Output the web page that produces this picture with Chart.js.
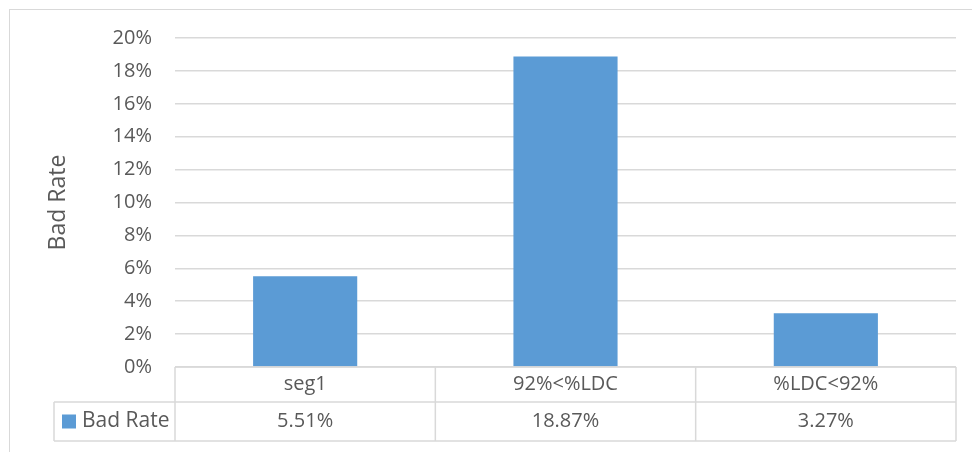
<!DOCTYPE html>
<html lang="en">

<head>
    <meta charset="UTF-8" />
    <title>Bad Rate</title>
    <script src="https://cdn.jsdelivr.net/npm/chart.js"></script>
    <style>
        html, body {
            margin: 0;
            padding: 0;
            background: #ffffff;
        }

        .chart-container {
            width: 972px;
            height: 452px;
        }
    </style>
</head>

<body>
    <div class="chart-container">
        <canvas id="badRateChart"></canvas>
    </div>

    <script>
        // Segments and bad rate per segment
        const segments = ["seg1", "92%<%LDC", "%LDC<92%"];
        const badRate = [0.0551, 0.1887, 0.0327];
        const seriesName = "Bad Rate";

        const barColor = "#5B9BD5";
        const lineColor = "#D9D9D9";
        const textColor = "#595959";
        const fontFamily = "'Open Sans', sans-serif";

        // Frame around the chart (only top/left edges fall inside the canvas)
        const frame = {
            id: "frame",
            beforeDraw(chart) {
                const ctx = chart.ctx;
                ctx.save();
                ctx.strokeStyle = lineColor;
                ctx.lineWidth = 1;
                ctx.strokeRect(9.5, 9.5, chart.width + 20, chart.height + 20);
                ctx.restore();
            }
        };

        // Data table under the plot: category row, then legend key + values row
        const dataTable = {
            id: "dataTable",
            afterDraw(chart) {
                const ctx = chart.ctx;
                const x = chart.scales.x;
                const area = chart.chartArea;
                const colW = (area.right - area.left) / segments.length;
                const top = area.bottom;
                const mid = top + 35;
                const bottom = top + 74;
                const keyLeft = 54;

                ctx.save();
                ctx.strokeStyle = lineColor;
                ctx.lineWidth = 1.5;
                ctx.beginPath();
                // horizontal lines
                ctx.moveTo(area.left, top);
                ctx.lineTo(area.right, top);
                ctx.moveTo(keyLeft, mid);
                ctx.lineTo(area.right, mid);
                ctx.moveTo(keyLeft, bottom);
                ctx.lineTo(area.right, bottom);
                // vertical lines
                ctx.moveTo(keyLeft, mid);
                ctx.lineTo(keyLeft, bottom);
                for (let i = 0; i <= segments.length; i++) {
                    const cx = area.left + i * colW;
                    ctx.moveTo(cx, top);
                    ctx.lineTo(cx, bottom);
                }
                ctx.stroke();

                ctx.fillStyle = textColor;
                ctx.font = "20px " + fontFamily;
                ctx.textAlign = "center";
                ctx.textBaseline = "middle";
                segments.forEach((label, i) => {
                    const cx = x.getPixelForValue(i);
                    ctx.fillText(label, cx, (top + mid) / 2);
                    ctx.fillText((badRate[i] * 100).toFixed(2) + "%", cx, (mid + bottom) / 2);
                });

                // legend key
                ctx.fillStyle = barColor;
                ctx.fillRect(62, (mid + bottom) / 2 - 7, 14, 14);
                ctx.fillStyle = textColor;
                ctx.textAlign = "left";
                ctx.font = "21px " + fontFamily;
                ctx.fillText(seriesName, 82, (mid + bottom) / 2);
                ctx.restore();
            }
        };

        const badRateData = {
            labels: segments,
            datasets: [
                {
                    label: seriesName,
                    data: badRate,
                    backgroundColor: barColor,
                    borderWidth: 0,
                    categoryPercentage: 0.4,
                    barPercentage: 1.0,
                },
            ],
        };

        const badRateConfig = {
            type: "bar",
            data: badRateData,
            options: {
                responsive: true,
                maintainAspectRatio: false,
                animation: false,
                layout: {
                    padding: { top: 38, right: 16, bottom: 85, left: 0 },
                },
                plugins: {
                    legend: { display: false },
                    tooltip: { enabled: false },
                },
                scales: {
                    x: {
                        display: false,
                    },
                    y: {
                        min: 0,
                        max: 0.2,
                        border: { display: false },
                        grid: {
                            color: lineColor,
                            lineWidth: 1.5,
                            drawTicks: false,
                        },
                        ticks: {
                            stepSize: 0.02,
                            padding: 23,
                            color: textColor,
                            font: { family: fontFamily, size: 20 },
                            callback: (v) => Math.round(v * 100) + "%",
                        },
                        title: {
                            display: true,
                            text: seriesName,
                            color: textColor,
                            font: { family: fontFamily, size: 23 },
                            padding: { top: 45, bottom: 0 },
                        },
                        afterFit(scale) {
                            scale.width = 175;
                        },
                    },
                },
            },
            plugins: [frame, dataTable],
        };

        window.onload = function () {
            const ctx = document.getElementById("badRateChart").getContext("2d");
            new Chart(ctx, badRateConfig);
        };
    </script>
</body>

</html>
